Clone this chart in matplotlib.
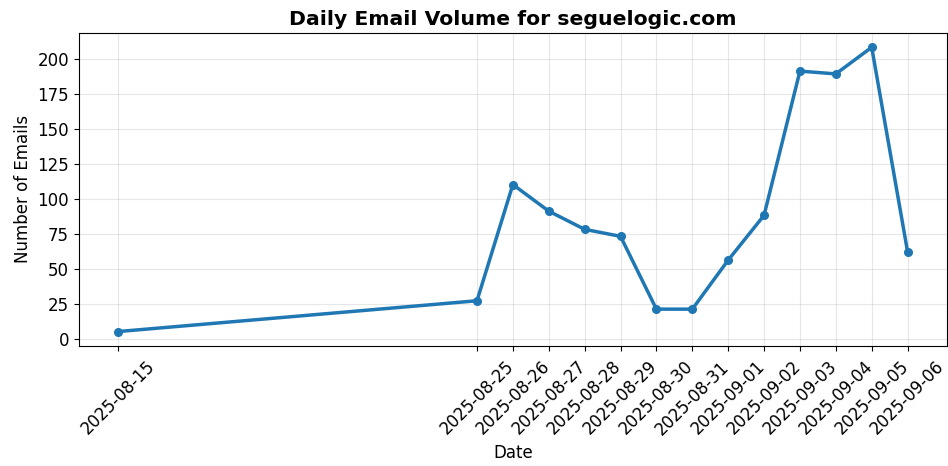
import numpy as np
import pandas as pd
import matplotlib
matplotlib.use('Agg')
import matplotlib.pyplot as plt
import matplotlib.dates as mdates

##############################
# Data
dates = ['2025-08-15', '2025-08-25', '2025-08-26', '2025-08-27', '2025-08-28',
         '2025-08-29', '2025-08-30', '2025-08-31', '2025-09-01', '2025-09-02',
         '2025-09-03', '2025-09-04', '2025-09-05', '2025-09-06']
counts = [5, 27, 110, 91, 78, 73, 21, 21, 56, 88, 191, 189, 208, 62]

x = pd.to_datetime(dates)

##############################
# Plot
fig, ax = plt.subplots(figsize=(9.48, 4.66), dpi=100)
ax.plot(x, counts, '-o', color='#1f77b4', linewidth=2.5, markersize=5.5)

ax.set_title('Daily Email Volume for seguelogic.com', fontsize=14.7, fontweight='bold')
ax.set_xlabel('Date', fontsize=12, labelpad=4)
ax.set_ylabel('Number of Emails', fontsize=12)
ax.grid(True, alpha=0.3)

ax.set_xticks(x)
ax.xaxis.set_major_formatter(mdates.DateFormatter('%Y-%m-%d'))
ax.tick_params(axis='x', pad=5)
plt.setp(ax.get_xticklabels(), rotation=45, fontsize=12)
plt.setp(ax.get_yticklabels(), fontsize=12)

fig.subplots_adjust(left=0.083, right=0.999, top=0.929, bottom=0.258)
fig.savefig('out.png', dpi=100)
